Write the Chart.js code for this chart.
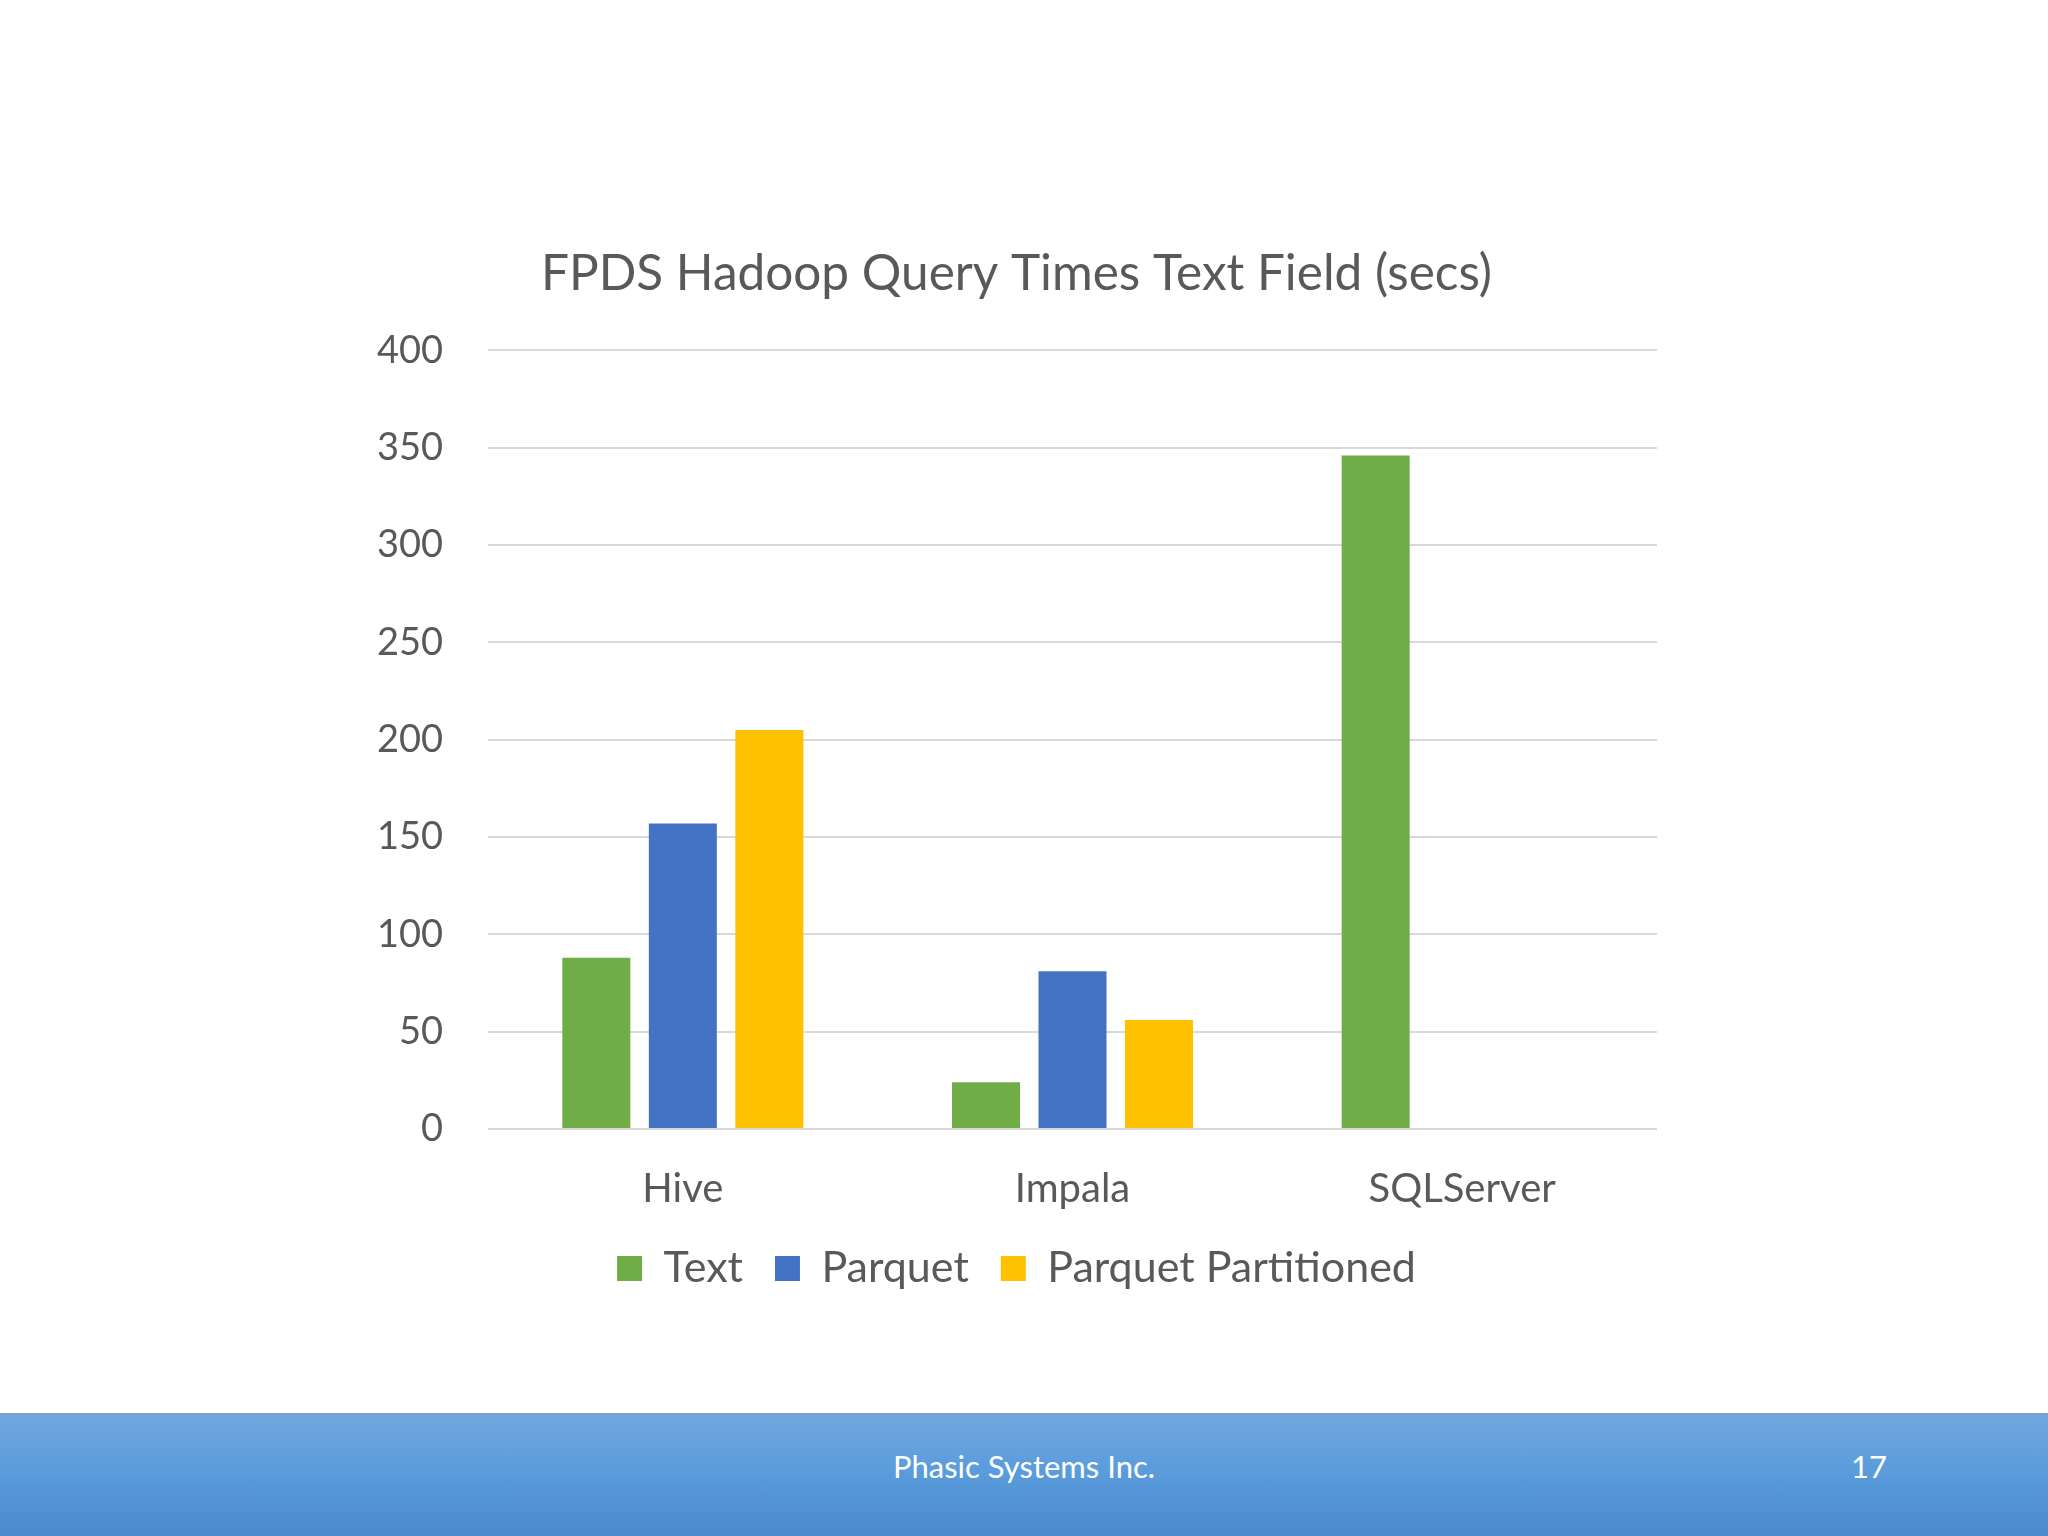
<!DOCTYPE html>
<html>
<head>
<meta charset="utf-8">
<script src="https://cdn.jsdelivr.net/npm/chart.js@4/dist/chart.umd.min.js"></script>
<style>
  html, body { margin: 0; padding: 0; background: #ffffff; }
  body { width: 2048px; height: 1536px; position: relative; overflow: hidden; font-family: Lato, sans-serif; }
  #chartWrap { position: absolute; left: 0; top: 0; width: 2048px; height: 1413px; }
  #footer {
    position: absolute; left: 0; top: 1413px; width: 2048px; height: 123px;
    background: linear-gradient(to bottom, #70a7de 0%, #5b9cdd 45%, #4a8acd 100%);
    border-top: 2px solid #7f9fd8; box-sizing: border-box;
    color: #ffffff; font-size: 31px;
  }
  #footer .company { position: absolute; left: 0; width: 2048px; top: 32px; text-align: center; }
  #footer .page { position: absolute; left: 1819px; width: 100px; top: 32px; text-align: center; }
</style>
</head>
<body>
<div id="chartWrap"><canvas id="barChart" width="2048" height="1413"></canvas></div>
<div id="footer">
  <div class="company">Phasic Systems Inc.</div>
  <div class="page">17</div>
</div>
<script>
  // chart data
  var categories = ["Hive", "Impala", "SQLServer"];
  var textTimes = [88, 24, 346];
  var parquetTimes = [157, 81, null];
  var partitionedTimes = [205, 56, null];
  var yTicks = [0, 50, 100, 150, 200, 250, 300, 350, 400];

  Chart.defaults.font.family = "Lato, 'Open Sans', sans-serif";
  Chart.defaults.color = "#595959";

  var data = {
    labels: categories,
    datasets: [
      { label: "Text", data: textTimes, backgroundColor: "#70ad47" },
      { label: "Parquet", data: parquetTimes, backgroundColor: "#4472c4" },
      { label: "Parquet Partitioned", data: partitionedTimes, backgroundColor: "#ffc000" },
    ],
  };

  var options = {
    responsive: false,
    animation: false,
    devicePixelRatio: 1,
    categoryPercentage: 0.666,
    barPercentage: 0.786,
    layout: {
      padding: { left: 376, right: 391, top: 0, bottom: 113 },
    },
    plugins: {
      title: {
        display: true,
        text: "FPDS Hadoop Query Times Text Field (secs)",
        color: "#595959",
        font: { size: 49.5, weight: "normal" },
        padding: { top: 244, bottom: 47 },
      },
      legend: {
        position: "bottom",
        labels: {
          boxWidth: 25,
          boxHeight: 25,
          padding: 32,
          color: "#595959",
          font: { size: 43 },
        },
      },
      tooltip: { enabled: false },
    },
    scales: {
      x: {
        grid: { display: false },
        border: { display: false },
        ticks: { padding: 28, font: { size: 40 }, color: "#595959" },
        afterFit: function (axis) { axis.height = 86; },
      },
      y: {
        min: 0,
        max: 400,
        afterBuildTicks: function (axis) {
          axis.ticks = yTicks.map(function (v) { return { value: v }; });
        },
        grid: { color: "#d9d9d9", lineWidth: 2, drawTicks: false },
        border: { display: false },
        ticks: { padding: 45, font: { size: 38 }, color: "#595959" },
        afterFit: function (axis) { axis.width = 112; },
      },
    },
  };

  var barChart = new Chart(document.getElementById("barChart"), {
    type: "bar",
    data: data,
    options: options,
  });
</script>
</body>
</html>
